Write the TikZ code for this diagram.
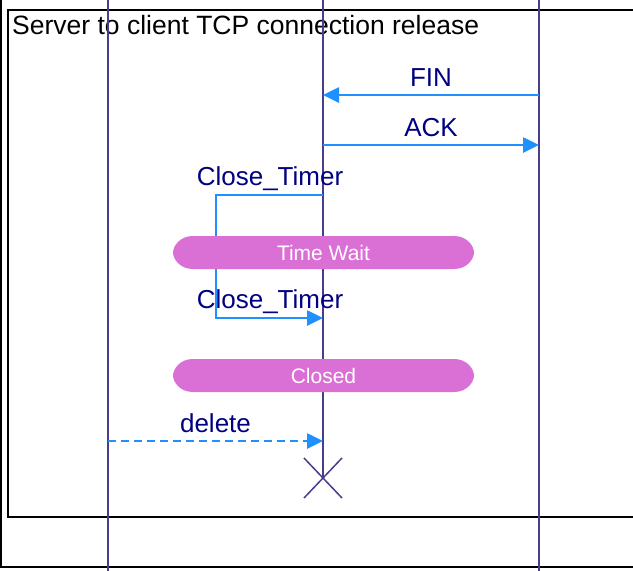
\documentclass[tikz,border=0pt]{standalone}
\usepackage{fontspec}
\setmainfont{Liberation Sans}
\usetikzlibrary{calc,arrows.meta}
\definecolor{lifeCol}{RGB}{72,61,139}
\definecolor{msgCol}{RGB}{30,144,255}
\definecolor{labCol}{RGB}{0,0,128}
\definecolor{stateCol}{RGB}{218,112,214}
\tikzset{
 lifeline/.style = {color=lifeCol, line width=1.5pt},
 msg/.style = {color=msgCol, line width=2.6pt, -{Triangle[length=16pt,width=15pt]}},
 msglabel/.style = {text=labCol, font=\fontsize{26}{30}\selectfont, anchor=base, inner sep=0pt},
 statebox/.style = {minimum width=261pt, minimum height=33pt,
  inner sep=0pt, text=white, font=\fontsize{21}{24}\selectfont}
}
% message from #2 to #3, label #4 above it
\newcommand{\sdMessage}[4][]{
    \draw[msg,#1] (#2) -- (#3) node[msglabel, pos=0.5, yshift=9pt]{#4};
}
% state band: name, centre, text
\newcommand{\stateBand}[3]{
    \fill[stateCol] ($#2+(-130.5,-16.5)$) -- ($#2+(130.5,-16.5)$)
        .. controls ($#2+(144,-16.5)$) and ($#2+(150.5,-6)$) .. ($#2+(150.5,0)$)
        .. controls ($#2+(150.5,6)$) and ($#2+(144,16.5)$) .. ($#2+(130.5,16.5)$)
        -- ($#2+(-130.5,16.5)$)
        .. controls ($#2+(-144,16.5)$) and ($#2+(-150.5,6)$) .. ($#2+(-150.5,0)$)
        .. controls ($#2+(-150.5,-6)$) and ($#2+(-144,-16.5)$) .. ($#2+(-130.5,-16.5)$)
        -- cycle;
    \node[statebox] (#1) at #2 {#3};
}

\begin{document}
\begin{tikzpicture}[x=1pt, y=-1pt]
    \useasboundingbox (0,0) rectangle (633,571);
    \clip (0,0) rectangle (633,571);

    \draw[line width=2pt] (1,-20) rectangle (660,567);
    \draw[line width=2.5pt] (8,10) rectangle (660,517);
    \node[anchor=base west, inner sep=0pt, font=\fontsize{26.5}{30}\selectfont]
        (title) at (12,34) {Server to client TCP connection release};

    \coordinate (srv_top) at (108,0);
    \coordinate (srv_bot) at (108,571);
    \coordinate (tcp_top) at (323,0);
    \coordinate (tcp_end) at (323,478);
    \coordinate (cli_top) at (539,0);
    \coordinate (cli_bot) at (539,571);
    \draw[lifeline] (srv_top) -- (srv_bot);
    \draw[lifeline] (tcp_top) -- (tcp_end);
    \draw[lifeline] (cli_top) -- (cli_bot);
    \draw[lifeline] ($(tcp_end)+(-19,-20)$) -- ($(tcp_end)+(19,20)$);
    \draw[lifeline] ($(tcp_end)+(19,-20)$) -- ($(tcp_end)+(-19,20)$);

    \coordinate (cli_fin) at (539,95);
    \coordinate (tcp_fin) at (323,95);
    \coordinate (tcp_ack) at (323,145);
    \coordinate (cli_ack) at (539,145);
    \sdMessage{cli_fin}{tcp_fin}{FIN}
    \sdMessage{tcp_ack}{cli_ack}{ACK}

    \coordinate (timer_a) at (323,195);
    \coordinate (timer_b) at (323,318);
    \coordinate (timer_x) at (216,0);
    \draw[msg] (timer_a) -- (timer_a -| timer_x) -- (timer_b -| timer_x) -- (timer_b);
    \node[msglabel] (timer_lab1) at (270,185) {Close\_Timer};
    \node[msglabel] (timer_lab2) at (270,308) {Close\_Timer};

    \stateBand{timewait}{(323.5,252.5)}{Time Wait}
    \stateBand{closed}{(323.5,375.5)}{Closed}

    \coordinate (srv_del) at (108,441);
    \coordinate (tcp_del) at (323,441);
    \sdMessage[dash pattern=on 8pt off 5pt]{srv_del}{tcp_del}{delete}
\end{tikzpicture}
\end{document}
